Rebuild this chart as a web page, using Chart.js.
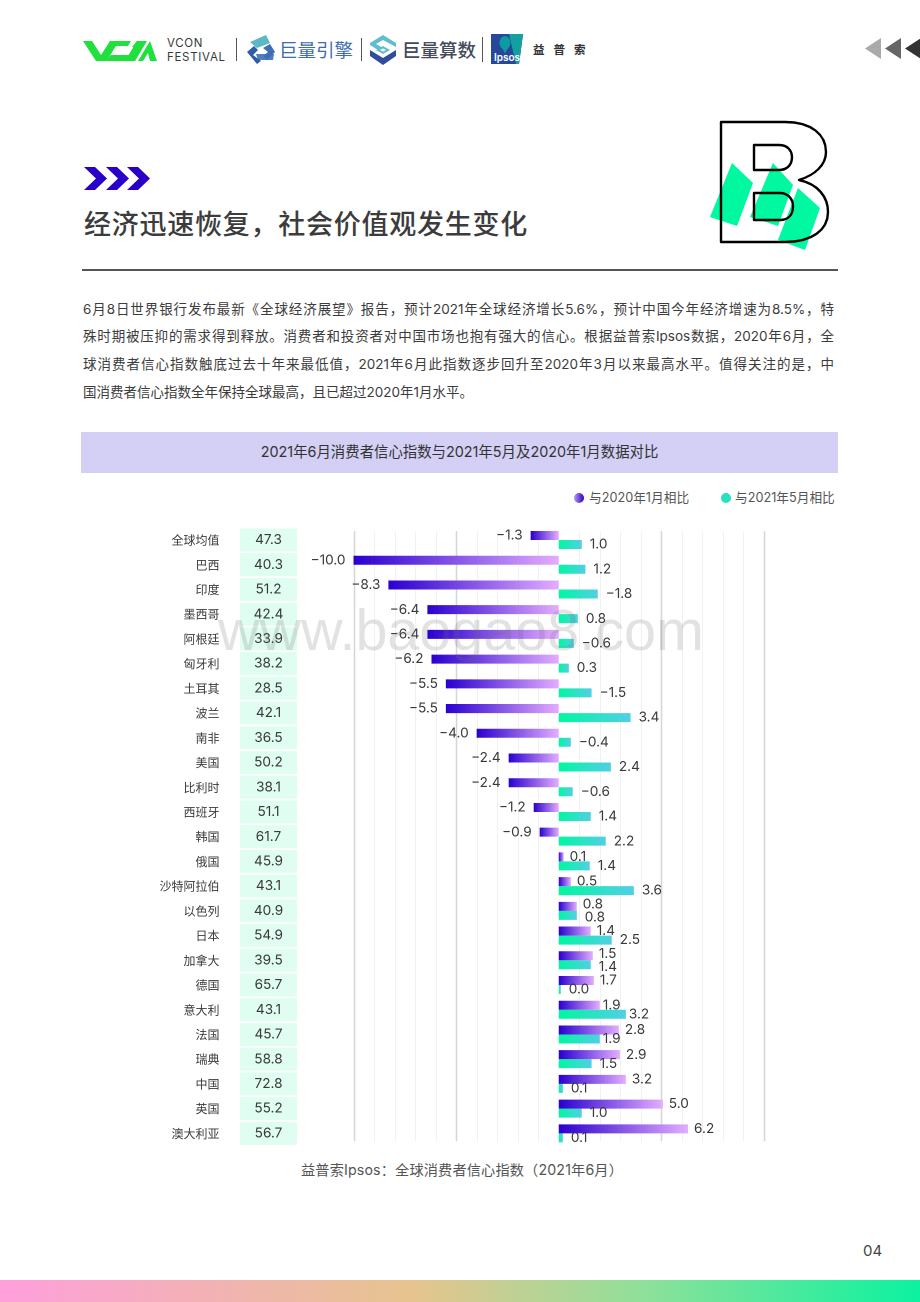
<!DOCTYPE html>
<html lang="zh-CN">
<head>
<meta charset="utf-8">
<title>经济迅速恢复，社会价值观发生变化</title>
<script src="https://cdn.jsdelivr.net/npm/chart.js@4/dist/chart.umd.min.js"></script>
<style>
  html, body { margin: 0; padding: 0; background: #fff; }
  body { position: relative; width: 920px; height: 1302px; overflow: hidden; font-family: Inter, "Noto Sans CJK SC", sans-serif; color: #333; }
  .abs { position: absolute; white-space: nowrap; }
  #art { position: absolute; left: 0; top: 0; }
  #title { left: 84px; top: 203px; font-size: 27px; line-height: 40px; letter-spacing: .75px; font-weight: 500; color: #3c3c3c; font-family: "Noto Sans CJK SC", sans-serif; }
  #rule { left: 82px; top: 269px; width: 756px; height: 2px; background: #555; }
  .para { left: 83px; width: 751px; font-size: 13.5px; line-height: 20px; color: #3c3c3c; text-align: justify; text-align-last: justify; white-space: normal; }
  #band { left: 81px; top: 432px; width: 757px; height: 41px; background: #d4cff5; text-align: center; line-height: 39px; font-size: 14.4px; font-weight: 400; color: #333; }
  .legend { top: 490px; font-size: 12.7px; line-height: 16px; color: #555; }
  .dot { position: absolute; width: 10px; height: 10px; border-radius: 50%; top: 493px; }
  #chartBox { position: absolute; left: 80px; top: 520px; width: 760px; height: 640px; }
  #source { left: 301px; top: 1160px; font-size: 14.2px; line-height: 20px; letter-spacing: .15px; color: #555; }
  #pageNo { left: 863px; top: 1241px; font-size: 15px; line-height: 20px; color: #444; }
  #footer { left: 0; top: 1280px; width: 920px; height: 22px; background: linear-gradient(90deg, #ff9fdc 0%, #e6c48e 45%, #8fe09a 70%, #0cf2a0 100%); }
  #watermark { left: 218px; top: 597px; font-family: "Liberation Sans", sans-serif; font-size: 57.5px; line-height: 66px; color: rgba(110,110,110,.2); pointer-events: none; }
  .logoText { font-family: "Noto Sans CJK SC", sans-serif; }
</style>
</head>
<body>

<svg id="art" width="920" height="300" viewBox="0 0 920 300">
  <!-- VCON mark -->
  <g fill="#1fe03c">
    <polygon points="83,41 92,41 101,55 110,41 118,41 105,61 96,61"/>
    <polygon points="113,41 131,41 128,46 116,46 109,57 105,61"/>
    <polygon points="104,61 127,61 130,55 111,55"/>
    <polygon points="125,61 137,41 147,41 135,61"/>
    <polygon points="132,47 137,41 146,41 142,47"/>
    <polygon points="138,61 150,41 157,61 150,61 148,53 143,61"/>
  </g>
  <line x1="236.5" y1="38" x2="236.5" y2="61" stroke="#555"/>
  <line x1="361.5" y1="38" x2="361.5" y2="61" stroke="#555"/>
  <line x1="482.5" y1="37" x2="482.5" y2="62" stroke="#555"/>
  <!-- 巨量引擎 icon -->
  <g>
    <polygon points="250,42 266,35 270,43 257,48" fill="#5bb8c4"/>
    <polygon points="263,48 270,44 275,52 267,60 263,56 268,52" fill="#3d6fb5"/>
    <polygon points="256,54 274,54 273,60 258,60" fill="#3d6fb5" opacity=".9"/>
    <polygon points="247,52 254,46 258,50 253,55 261,61 257,64" fill="#2f5ea8"/>
  </g>
  <!-- 巨量算数 icon -->
  <g>
    <polygon points="383,35 396,43 396,47 383,40 376,44 383,48 378,50 370,45 370,43" fill="#62bcd0"/>
    <polygon points="370,50 383,58 396,50 396,56 383,65 370,56" fill="#2f4d9c"/>
    <polygon points="383,46 390,50 383,54 376,50" fill="#62bcd0"/>
    <polygon points="383,48.5 386,50 383,51.5 380,50" fill="#fff"/>
  </g>
  <!-- Ipsos box -->
  <polygon points="491,34 523,34 519,64 491,64" fill="#27479b"/>
  <polygon points="509,34 523,34 519,64 516,64" fill="#12a0a0"/>
  <path d="M505 36 a5.5 6.5 0 0 1 5.5 6.5 q0 4 -3.5 7 l-2 4 l-2 -4 q-3.5 -3 -3.5 -7 a5.5 6.5 0 0 1 5.5 -6.5z" fill="#0d9aa0"/>
  <!-- right arrows -->
  <polygon points="881,38 881,59 865,48.5" fill="#aaaaaa"/>
  <polygon points="901,38 901,59 885,48.5" fill="#666666"/>
  <polygon points="921,38 921,59 905,48.5" fill="#333333"/>
  <!-- chevrons -->
  <g fill="#2a00c8">
    <polygon points="84,167 95,167 107,178.5 95,190 84,190 96,178.5"/>
    <polygon points="106,167 117,167 129,178.5 117,190 106,190 118,178.5"/>
    <polygon points="127,167 138,167 150,178.5 138,190 127,190 139,178.5"/>
  </g>
  <!-- big B -->
  <g fill="#00f8a0">
    <polygon points="732,163 753,183 737,226 710,217"/>
    <polygon points="773,163 793,185 778,226 750,217"/>
    <polygon points="798,188 820,208 805,250 778,240"/>
  </g>
  <g fill="none" stroke="#000" stroke-width="2.4" stroke-linejoin="round">
    <path d="M721 122 H785 C812 122 826 135 826 152 C826 165 815 175 799 180 C818 184 828 197 828 212 C828 230 812 242 785 242 H721 Z"/>
    <path d="M754 145 H779 C788 145 792 151 792 157 C792 164 788 170 779 170 H754 Z"/>
    <path d="M754 193 H780 C789 193 793 200 793 206 C793 214 789 220 780 220 H754 Z"/>
  </g>
</svg>

<div class="abs" style="left:167px;top:36px;font-size:11.5px;line-height:14px;letter-spacing:.7px;color:#3a3a3a;">VCON<br>FESTIVAL</div>
<div class="abs logoText" style="left:279px;top:36px;font-size:18.5px;line-height:27px;color:#3f6cb0;">巨量引擎</div>
<div class="abs logoText" style="left:402px;top:36px;font-size:18.5px;line-height:27px;font-weight:500;color:#454a5c;">巨量算数</div>
<div class="abs" style="left:494px;top:51px;font-size:10px;line-height:12px;font-weight:600;color:#fff;">Ipsos</div>
<div class="abs logoText" style="left:533px;top:41px;font-size:11.5px;line-height:16px;font-weight:700;letter-spacing:9px;color:#333;">益普索</div>

<div class="abs" id="title">经济迅速恢复，社会价值观发生变化</div>
<div class="abs" id="rule"></div>

<div class="abs para" style="top:299px;">6月8日世界银行发布最新《全球经济展望》报告，预计2021年全球经济增长5.6%，预计中国今年经济增速为8.5%，特</div>
<div class="abs para" style="top:326px;">殊时期被压抑的需求得到释放。消费者和投资者对中国市场也抱有强大的信心。根据益普索Ipsos数据，2020年6月，全</div>
<div class="abs para" style="top:354px;">球消费者信心指数触底过去十年来最低值，2021年6月此指数逐步回升至2020年3月以来最高水平。值得关注的是，中</div>
<div class="abs para" style="top:382px;width:auto;text-align-last:left;white-space:nowrap;">国消费者信心指数全年保持全球最高，且已超过2020年1月水平。</div>

<div class="abs" id="band">2021年6月消费者信心指数与2021年5月及2020年1月数据对比</div>

<span class="dot" style="left:574px;background:linear-gradient(90deg,#b79af0,#2a00c8);"></span>
<div class="abs legend" style="left:589px;">与2020年1月相比</div>
<span class="dot" style="left:721px;background:#28dfc0;"></span>
<div class="abs legend" style="left:735px;">与2021年5月相比</div>

<div id="chartBox"><canvas id="confidenceChart" width="760" height="640"></canvas></div>

<div class="abs" id="source">益普索Ipsos：全球消费者信心指数（2021年6月）</div>
<div class="abs" id="pageNo">04</div>
<div class="abs" id="footer"></div>
<div class="abs" id="watermark">www.baogao8.com</div>

<script>
const categories = ["全球均值", "巴西", "印度", "墨西哥", "阿根廷", "匈牙利", "土耳其", "波兰", "南非", "美国", "比利时", "西班牙", "韩国", "俄国", "沙特阿拉伯", "以色列", "日本", "加拿大", "德国", "意大利", "法国", "瑞典", "中国", "英国", "澳大利亚"];
const indexValues = ["47.3", "40.3", "51.2", "42.4", "33.9", "38.2", "28.5", "42.1", "36.5", "50.2", "38.1", "51.1", "61.7", "45.9", "43.1", "40.9", "54.9", "39.5", "65.7", "43.1", "45.7", "58.8", "72.8", "55.2", "56.7"];

// printed numbers
const jan2020Labels = ["−1.3", "−10.0", "−8.3", "−6.4", "−6.4", "−6.2", "−5.5", "−5.5", "−4.0", "−2.4", "−2.4", "−1.2", "−0.9", "0.1", "0.5", "0.8", "1.4", "1.5", "1.7", "1.9", "2.8", "2.9", "3.2", "5.0", "6.2"];
const may2021Labels = ["1.0", "1.2", "−1.8", "0.8", "−0.6", "0.3", "−1.5", "3.4", "−0.4", "2.4", "−0.6", "1.4", "2.2", "1.4", "3.6", "0.8", "2.5", "1.4", "0.0", "3.2", "1.9", "1.5", "0.1", "1.0", "0.1"];

// bar lengths as drawn in the picture (the May bars all point right, even for negative numbers)
const jan2020Bars = [-1.37, -10.0, -8.3, -6.4, -6.4, -6.2, -5.5, -5.5, -4.0, -2.44, -2.44, -1.22, -0.93, 0.24, 0.59, 0.88, 1.56, 1.66, 1.71, 2.0, 2.93, 2.98, 3.27, 5.07, 6.3];
const may2021Bars = [1.12, 1.3, 1.9, 0.93, 0.73, 0.49, 1.6, 3.5, 0.59, 2.54, 0.68, 1.56, 2.29, 1.51, 3.66, 0.88, 2.58, 1.56, 0.1, 3.27, 2.0, 1.6, 0.2, 1.12, 0.2];

const xTicksMin = -10;
const xTicksMax = 10;

const valueFont = '13.6px Inter, "Noto Sans CJK SC", sans-serif';

// left-to-right gradient over one bar
function barGradient(context, from, to) {
    const value = context.raw;
    const xScale = context.chart.scales.x;
    if (value === undefined || !xScale) return from;
    const x0 = xScale.getPixelForValue(Math.min(0, value));
    const x1 = xScale.getPixelForValue(Math.max(0, value));
    // scales have no size yet on the very first pass
    if (!Number.isFinite(x0) || !Number.isFinite(x1)) return from;
    const gradient = context.chart.ctx.createLinearGradient(x0, 0, x1, 0);
    gradient.addColorStop(0, from);
    gradient.addColorStop(1, to);
    return gradient;
}

function drawValueLabels(chart, datasetIndex, labels) {
    const ctx = chart.ctx;
    const bars = chart.getDatasetMeta(datasetIndex).data;
    ctx.save();
    ctx.font = valueFont;
    ctx.fillStyle = "#3a3a3a";
    ctx.textBaseline = "middle";
    labels.forEach((label, i) => {
        const value = chart.data.datasets[datasetIndex].data[i];
        const bar = bars[i];
        // these rows sit tight against the bar in the original
        const tight = (categories[i] === "意大利") || (categories[i] === "法国" && datasetIndex === 1);
        const gap = tight ? 3 : (datasetIndex === 0 ? 6 : 8);
        // nearly equal bars: labels are pushed apart so they stay readable
        const closePair = jan2020Bars[i] > 0 && Math.abs(jan2020Bars[i] - may2021Bars[i]) < 0.15;
        const shift = closePair ? (datasetIndex === 0 ? -2 : 2) : 0;
        if (value < 0) {
            ctx.textAlign = "right";
            ctx.fillText(label, bar.x - 8, bar.y);
        } else {
            ctx.textAlign = "left";
            ctx.fillText(label, bar.x + gap, bar.y + shift);
        }
    });
    ctx.restore();
}

const pagePlugin = {
    id: "pagePlugin",
    beforeDatasetsDraw(chart) {
        const ctx = chart.ctx;
        const x = chart.scales.x;
        const y = chart.scales.y;

        // vertical grid, a little shorter than the plot band
        ctx.save();
        x.ticks.forEach((tick) => {
            if (tick.value === 0) return;
            const major = tick.value % 5 === 0;
            const px = Math.round(x.getPixelForValue(tick.value)) + 0.5;
            ctx.strokeStyle = major ? "#d6d6d6" : "#f1f1f1";
            ctx.lineWidth = major ? 1.5 : 1;
            ctx.beginPath();
            ctx.moveTo(px, chart.chartArea.top + 3.5);
            ctx.lineTo(px, chart.chartArea.bottom - 4.5);
            ctx.stroke();
        });

        // index column
        ctx.font = valueFont;
        ctx.textAlign = "center";
        ctx.textBaseline = "middle";
        indexValues.forEach((value, i) => {
            const py = y.getPixelForTick(i);
            ctx.fillStyle = "#dffdf1";
            ctx.fillRect(160, py - 11.5, 57, 23);
            ctx.fillStyle = "#3a3a3a";
            ctx.fillText(value, 188.5, py);
        });
        ctx.restore();

        // Jan labels go under the bars, the teal bars cut into them
        drawValueLabels(chart, 0, jan2020Labels);
    },
    afterDatasetsDraw(chart) {
        drawValueLabels(chart, 1, may2021Labels);
    }
};

new Chart(document.getElementById("confidenceChart"), {
    type: "bar",
    data: {
        labels: categories,
        datasets: [
            {
                label: "与2020年1月相比",
                data: jan2020Bars,
                backgroundColor: (context) => barGradient(context, "#2a00d0", "#e4adff")
            },
            {
                label: "与2021年5月相比",
                data: may2021Bars,
                backgroundColor: (context) => barGradient(context, "#00f8a0", "#52cfe6")
            }
        ]
    },
    options: {
        indexAxis: "y",
        responsive: false,
        animation: false,
        devicePixelRatio: 2,
        layout: { padding: { top: 7.65, bottom: 6.3, right: 76, left: 0 } },
        categoryPercentage: 0.7285,
        barPercentage: 1,
        plugins: {
            legend: { display: false },
            tooltip: { enabled: false }
        },
        scales: {
            x: {
                min: xTicksMin,
                max: xTicksMax,
                grid: { display: false },
                border: { display: false },
                ticks: { display: false, stepSize: 1 }
            },
            y: {
                grid: { display: false, drawTicks: false },
                border: { display: false },
                afterFit: (scale) => {
                    scale.width = 273.5;
                    // tick padding also pads top/bottom, which squeezes the plot
                    scale.paddingTop = 0;
                    scale.paddingBottom = 0;
                },
                ticks: {
                    autoSkip: false,
                    padding: 134,
                    color: "#3a3a3a",
                    font: { size: 12, family: '"Noto Sans CJK SC", sans-serif' }
                }
            }
        }
    },
    plugins: [pagePlugin]
});
</script>
</body>
</html>
